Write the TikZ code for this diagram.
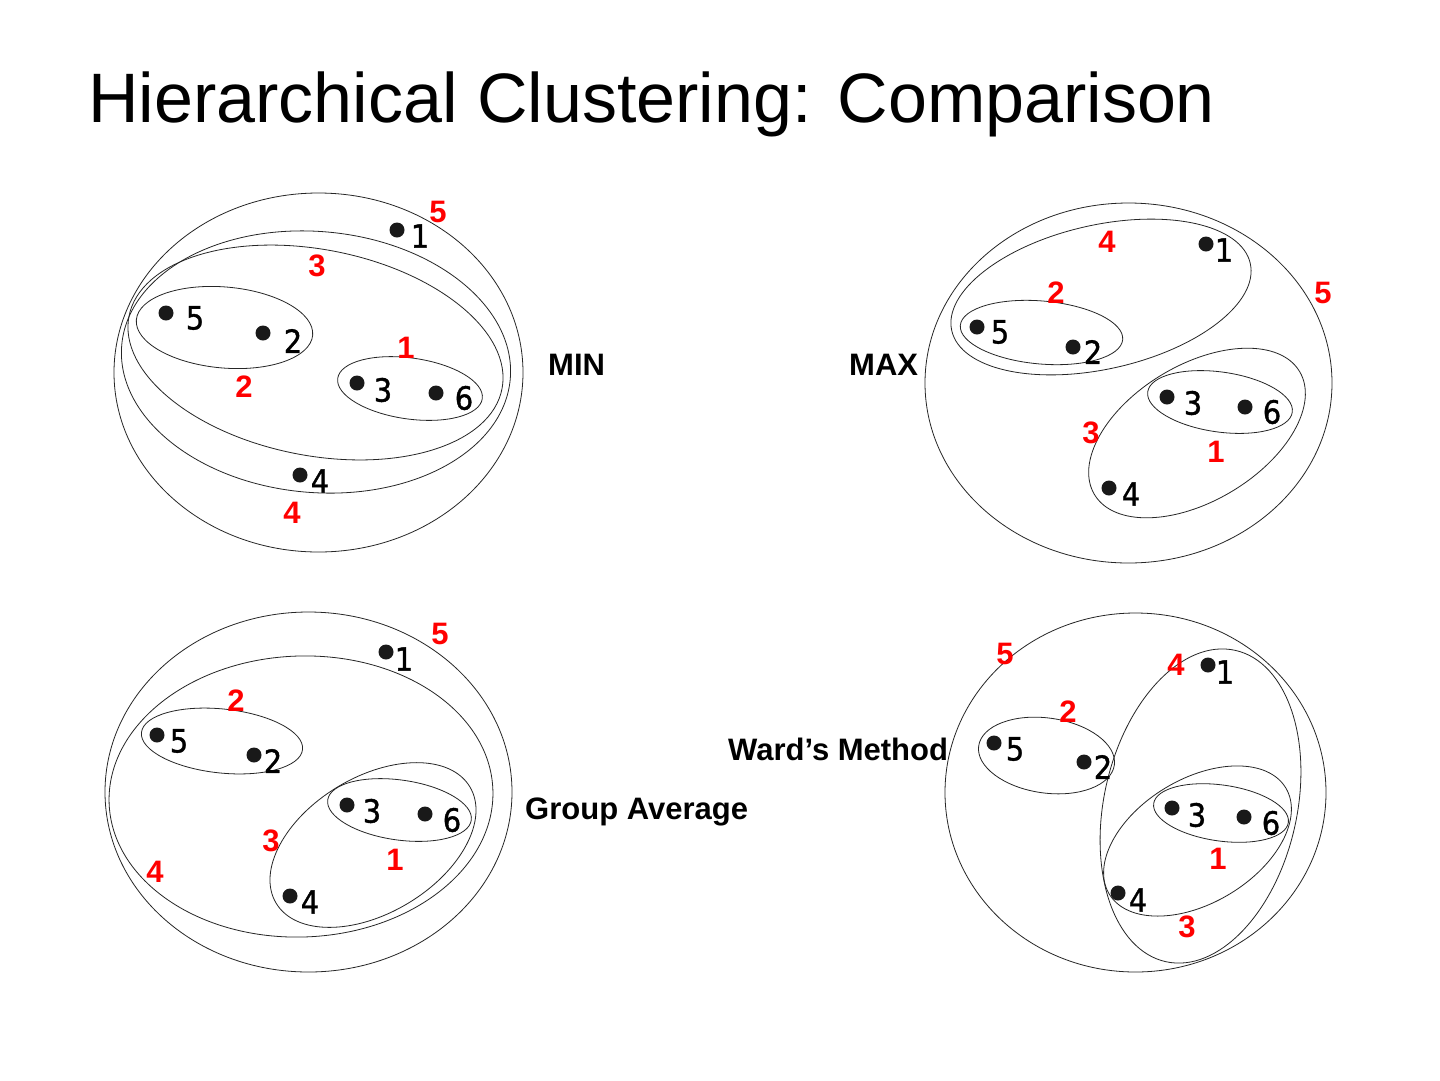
\documentclass[tikz,border=0pt]{standalone}
\usepackage{fontspec}
\setmainfont{Liberation Sans}
\newfontfamily\digitfont[FakeStretch=0.9,FakeBold=1.2]{DejaVu Sans}
\tikzset{
  ell/.style={draw=black!85, line width=0.8pt},
  dotn/.style={circle, fill=black!90, inner sep=0pt, minimum size=15pt},
  numl/.style={font=\digitfont\fontsize{32}{32}\selectfont, inner sep=0pt},
  redl/.style={font=\bfseries\fontsize{31}{31}\selectfont, text=red, inner sep=0pt},
  meth/.style={font=\bfseries\fontsize{31}{31}\selectfont, inner sep=0pt, anchor=base west},
}
% \mypt{name}{dot x,y}{label x,y}{text}
\newcommand\mypt[4]{%
  \node[dotn] (#1) at (#2) {};
  \node[numl] (#1l) at (#3) {#4};
}
\newcommand\myell[5]{% ellipse: center, rx, ry, rot
  \draw[ell, rotate around={#4:(#1)}] (#1) ellipse [x radius=#2, y radius=#3];
}
\begin{document}
\begin{tikzpicture}[x=1pt, y=-1pt]
\useasboundingbox (0,0) rectangle (1440,1080);
\fill[white] (0,0) rectangle (1440,1080);

\node[anchor=base west, inner sep=0pt, font=\fontsize{70}{70}\selectfont] (title) at (88,122) {Hierarchical Clustering: Comparison};

% ---------- MIN ----------
\myell{318.5,372.5}{204.5}{179.5}{0}{}
\myell{316,362}{195}{130.5}{-5}{}
\myell{315.5,352.5}{190}{103}{-11}{}
\myell{224.5,327.5}{88.5}{40.5}{-5}{}
\myell{410,388.5}{73}{30.5}{-8}{}
\mypt{a1}{397,230}{420,236}{1}
\mypt{a5}{166,313}{195,318}{5}
\mypt{a2}{263,333}{293,341}{2}
\mypt{a3}{357,383}{383,390}{3}
\mypt{a6}{436,393}{464,398}{6}
\mypt{a4}{300,475}{320,481}{4}
\node[redl] (ar5) at (438,212) {5};
\node[redl] (ar3) at (317,266) {3};
\node[redl] (ar1) at (406,348) {1};
\node[redl] (ar2) at (244,387) {2};
\node[redl] (ar4) at (292,513) {4};
\node[meth] (minl) at (548,375) {MIN};

% ---------- MAX ----------
\myell{1128.5,383}{203.5}{180}{0}{}
\myell{1101,297}{153}{72}{12.7}{}
\myell{1041.5,332.5}{81.5}{31.5}{-5}{}
\myell{1197,433}{119.6}{68}{31}{}
\myell{1220,402}{73}{30}{-8}{}
\mypt{b1}{1206,244}{1224,250}{1}
\mypt{b5}{977,327}{1000,332}{5}
\mypt{b2}{1073,347}{1093,352}{2}
\mypt{b3}{1167,397}{1193,403}{3}
\mypt{b6}{1245,407}{1272,412}{6}
\mypt{b4}{1109,488}{1131,494}{4}
\node[redl] (br4) at (1107,242) {4};
\node[redl] (br2) at (1056,293) {2};
\node[redl] (br5) at (1323,293) {5};
\node[redl] (br3) at (1091,433) {3};
\node[redl] (br1) at (1216,452) {1};
\node[meth] (maxl) at (849,375) {MAX};

% ---------- Group Average ----------
\myell{308.5,792}{203.5}{180}{0}{}
\myell{301,796.5}{192}{140.5}{2}{}
\myell{222,741}{81}{32}{-6}{}
\myell{373,845}{113}{68}{31}{}
\myell{399.5,810}{72.5}{30}{-8}{}
\mypt{c1}{386,652}{404,659}{1}
\mypt{c5}{157,735}{179,741}{5}
\mypt{c2}{254,755}{273,761}{2}
\mypt{c3}{347,805}{372,811}{3}
\mypt{c6}{425,814}{452,820}{6}
\mypt{c4}{290,896}{310,902}{4}
\node[redl] (cr5) at (440,634) {5};
\node[redl] (cr2) at (236,701) {2};
\node[redl] (cr3) at (271,841) {3};
\node[redl] (cr1) at (395,860) {1};
\node[redl] (cr4) at (155,872) {4};
\node[meth] (gal) at (525,819) {Group Average};

% ---------- Ward ----------
\myell{1135.5,792.5}{190.5}{179.5}{0}{}
\myell{1200.5,806}{96.5}{159.5}{-12.6}{}
\myell{1197.5,841}{103}{62}{31}{}
\myell{1221,813}{68}{28}{-8}{}
\myell{1046.5,755.5}{68.5}{37.5}{-8}{}
\mypt{d1}{1208,665}{1225,672}{1}
\mypt{d5}{994,743}{1015,749}{5}
\mypt{d2}{1084,762}{1103,767}{2}
\mypt{d3}{1172,808}{1197,815}{3}
\mypt{d6}{1244,817}{1271,823}{6}
\mypt{d4}{1118,893}{1138,900}{4}
\node[redl] (dr5) at (1005,654) {5};
\node[redl] (dr4) at (1176,665) {4};
\node[redl] (dr2) at (1068,712) {2};
\node[redl] (dr1) at (1218,859) {1};
\node[redl] (dr3) at (1187,927) {3};
\node[meth] (wardl) at (728,760) {Ward’s Method};
\end{tikzpicture}
\end{document}
